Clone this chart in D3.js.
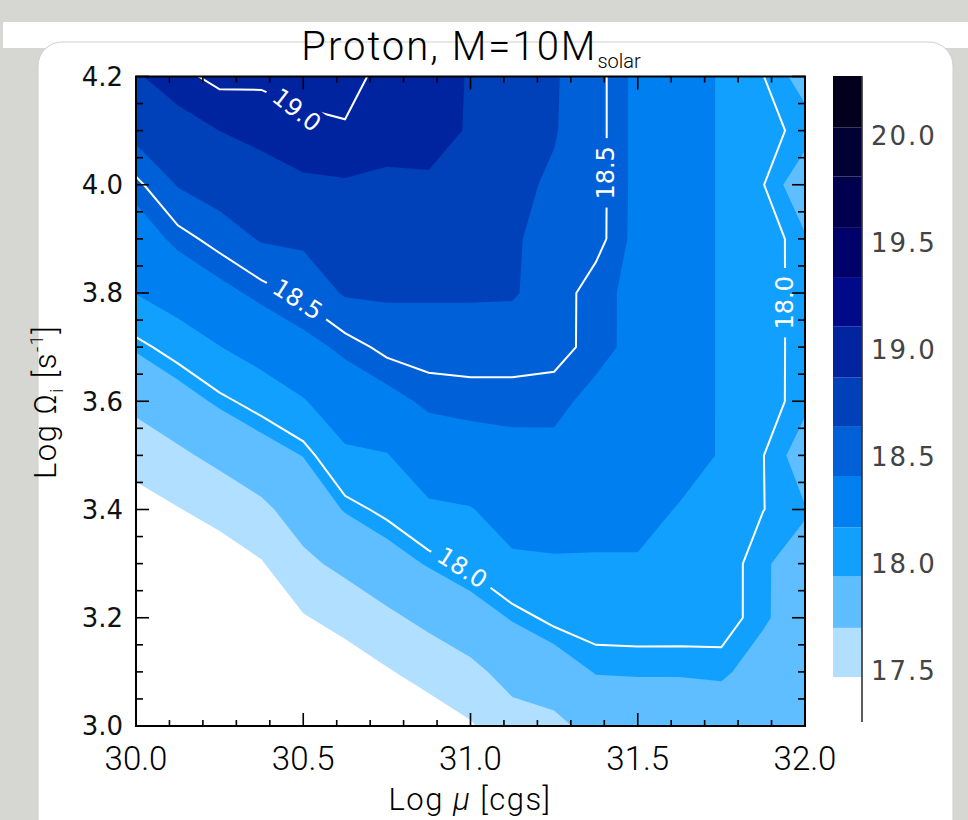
<!DOCTYPE html>
<html>
<head>
<meta charset="utf-8">
<style>
  body { margin: 0; background: #d6d6d2; }
  svg { display: block; }
</style>
</head>
<body>
<svg width="968" height="820"></svg>
<script src="https://cdn.jsdelivr.net/npm/d3@7"></script>
<script>
// grid of the map: log mu (columns) and log Omega_i (rows, bottom to top)
var logMu = [30.0, 30.125, 30.25, 30.375, 30.5, 30.625, 30.75, 30.875, 31.0,
             31.125, 31.25, 31.375, 31.5, 31.625, 31.75, 31.875, 32.0];
var logOmega = [3.0, 3.1, 3.2, 3.3, 3.4, 3.5, 3.6, 3.7, 3.8, 3.9, 4.0, 4.1, 4.2];

// contoured quantity, one row per logOmega value
var nLog = [
  [16.59, 16.68, 16.75, 16.85, 17.05, 17.15, 17.239, 17.342, 17.448, 17.61, 17.642, 17.78, 17.80, 17.80, 17.82, 17.76, 17.78],
  [16.78, 16.875, 16.95, 17.05, 17.253, 17.35, 17.45, 17.554, 17.644, 17.778, 17.845, 17.949, 17.955, 17.955, 17.965, 17.87, 17.82],
  [16.98, 17.07, 17.152, 17.254, 17.454, 17.547, 17.657, 17.756, 17.853, 17.953, 18.031, 18.051, 18.051, 18.05, 18.042, 17.96, 17.85],
  [17.175, 17.265, 17.352, 17.454, 17.65, 17.756, 17.861, 17.955, 18.03, 18.138, 18.151, 18.154, 18.154, 18.14, 18.058, 17.945, 17.919],
  [17.37, 17.46, 17.548, 17.652, 17.807, 17.953, 18.033, 18.138, 18.16, 18.255, 18.256, 18.23, 18.23, 18.159, 18.10, 18.002, 17.945],
  [17.565, 17.658, 17.759, 17.86, 17.945, 18.138, 18.161, 18.295, 18.326, 18.358, 18.359, 18.303, 18.30, 18.238, 18.158, 18.002, 17.89],
  [17.757, 17.861, 17.969, 18.053, 18.157, 18.29, 18.354, 18.441, 18.458, 18.458, 18.458, 18.355, 18.33, 18.25, 18.156, 18.043, 17.96],
  [17.96, 18.06, 18.165, 18.257, 18.351, 18.445, 18.535, 18.553, 18.553, 18.553, 18.535, 18.468, 18.351, 18.25, 18.156, 18.033, 17.97],
  [18.175, 18.266, 18.358, 18.452, 18.532, 18.657, 18.663, 18.659, 18.659, 18.655, 18.568, 18.44, 18.38, 18.25, 18.156, 18.033, 17.97],
  [18.31, 18.45, 18.55, 18.655, 18.67, 18.752, 18.757, 18.757, 18.722, 18.66, 18.58, 18.545, 18.365, 18.25, 18.156, 18.055, 17.949],
  [18.465, 18.65, 18.724, 18.79, 18.844, 18.855, 18.855, 18.855, 18.791, 18.673, 18.62, 18.545, 18.37, 18.25, 18.156, 18.003, 17.872],
  [18.70, 18.79, 18.871, 18.918, 18.958, 18.976, 18.90, 18.91, 18.86, 18.70, 18.65, 18.545, 18.37, 18.25, 18.156, 18.022, 17.98],
  [18.85, 18.96, 19.04, 19.027, 19.06, 19.09, 18.92, 18.93, 18.86, 18.72, 18.655, 18.545, 18.37, 18.25, 18.156, 18.002, 17.90]
];

// filled levels and their colours (as on the colour bar)
var levels = [17.47, 17.70, 17.94, 18.17, 18.41, 18.64, 18.87, 19.11, 19.34, 19.57, 19.81, 20.04, 20.28];
var levelColors = ["#b0dfff", "#5ebeff", "#12a0ff", "#0080f0", "#0060d8", "#0040b8",
                   "#0024a0", "#000a88", "#00006a", "#00004e", "#000034", "#00001c"];
var lineLevels = [18.0, 18.5, 19.0];

var xTicks = [30.0, 30.5, 31.0, 31.5, 32.0];
var yTicks = [3.0, 3.2, 3.4, 3.6, 3.8, 4.0, 4.2];
var barTicks = [17.5, 18.0, 18.5, 19.0, 19.5, 20.0];

// where the line labels sit (data units) and how they are turned
var lineLabels = [
  {v: 19.0, mu: 30.48, om: 4.138, angle: 38},
  {v: 18.5, mu: 30.483, om: 3.788, angle: 33},
  {v: 18.0, mu: 30.975, om: 3.292, angle: 33},
  {v: 18.5, mu: 31.404, om: 4.022, angle: -90},
  {v: 18.0, mu: 31.939, om: 3.782, angle: -90}
];

var svg = d3.select("svg");
var x = d3.scaleLinear().domain([30, 32]).range([136, 805]);
var y = d3.scaleLinear().domain([3.0, 4.2]).range([726, 76.5]);
var cb = d3.scaleLinear().domain([17.26, 20.28]).range([722, 76]);

var thin = "Roboto, 'Liberation Sans', Arial, sans-serif";
var gothic = "'DejaVu Sans', sans-serif";

// page / slide background
svg.append("rect").attr("width", 968).attr("height", 820).attr("fill", "#d6d6d2");
svg.append("rect").attr("x", 3).attr("y", 22).attr("width", 965).attr("height", 26).attr("fill", "#fff");
svg.append("rect").attr("x", 38).attr("y", 42).attr("width", 915).attr("height", 820)
  .attr("rx", 24).attr("fill", "#fff").attr("stroke", "#cfcfcf");

var defs = svg.append("defs");
defs.append("clipPath").attr("id", "plotClip").append("rect")
  .attr("x", x(30)).attr("y", y(4.2)).attr("width", x(32) - x(30)).attr("height", y(3.0) - y(4.2));

// contours
var nx = logMu.length, ny = logOmega.length;
var dMu = logMu[1] - logMu[0], dOm = logOmega[1] - logOmega[0];
var values = [].concat.apply([], nLog);
var proj = d3.geoTransform({
  point: function(gx, gy) {
    this.stream.point(x(logMu[0] + (gx - 0.5) * dMu), y(logOmega[0] + (gy - 0.5) * dOm));
  }
});
var path = d3.geoPath(proj);

svg.append("rect").attr("x", x(30)).attr("y", y(4.2))
  .attr("width", x(32) - x(30)).attr("height", y(3.0) - y(4.2)).attr("fill", "#fff");

var bands = d3.contours().size([nx, ny]).thresholds(levels.slice(0, -1))(values);
svg.append("g").attr("clip-path", "url(#plotClip)")
  .selectAll("path").data(bands).enter().append("path")
  .attr("d", path)
  .attr("fill", function(d, i) { return levelColors[i]; });

// labels of the lines, with a gap cut in the line under each one
var mask = defs.append("mask").attr("id", "labelGap").attr("maskUnits", "userSpaceOnUse")
  .attr("x", 0).attr("y", 0).attr("width", 968).attr("height", 820);
mask.append("rect").attr("width", 968).attr("height", 820).attr("fill", "#fff");

var labelG = svg.append("g");
lineLabels.forEach(function(d) {
  var g = labelG.append("g")
    .attr("transform", "translate(" + x(d.mu) + "," + y(d.om) + ") rotate(" + d.angle + ")");
  var t = g.append("text").attr("text-anchor", "middle").attr("dominant-baseline", "central")
    .attr("font-family", gothic).attr("font-size", 24).attr("fill", "#fff")
    .text(d3.format(".1f")(d.v));
  var w = t.node().getComputedTextLength() + 16;
  mask.append("rect").attr("x", -w / 2).attr("y", -14).attr("width", w).attr("height", 28)
    .attr("fill", "#000")
    .attr("transform", "translate(" + x(d.mu) + "," + y(d.om) + ") rotate(" + d.angle + ")");
});

var lines = d3.contours().size([nx, ny]).thresholds(lineLevels)(values);
svg.append("g").attr("clip-path", "url(#plotClip)")
  .append("g").attr("mask", "url(#labelGap)")
  .selectAll("path").data(lines).enter().append("path")
  .attr("d", path)
  .attr("fill", "none").attr("stroke", "#fff").attr("stroke-width", 2)
  .attr("stroke-linejoin", "miter");

labelG.raise();

// frame and inward ticks on all four sides
var ax = svg.append("g").attr("stroke", "#000").attr("stroke-width", 1.6);
var xMinor = d3.range(300, 321).map(function(k) { return k / 10; });
var yMinor = d3.range(60, 85).map(function(k) { return k / 20; });
xMinor.forEach(function(v) {
  var len = xTicks.indexOf(v) >= 0 ? 13 : 6;
  ax.append("line").attr("x1", x(v)).attr("x2", x(v)).attr("y1", y(3.0)).attr("y2", y(3.0) - len);
  ax.append("line").attr("x1", x(v)).attr("x2", x(v)).attr("y1", y(4.2)).attr("y2", y(4.2) + len);
});
yMinor.forEach(function(v) {
  var major = yTicks.some(function(t) { return Math.abs(t - v) < 1e-9; });
  var len = major ? 13 : 7;
  ax.append("line").attr("x1", x(30)).attr("x2", x(30) + len).attr("y1", y(v)).attr("y2", y(v));
  ax.append("line").attr("x1", x(32)).attr("x2", x(32) - len).attr("y1", y(v)).attr("y2", y(v));
});
svg.append("rect").attr("x", x(30)).attr("y", y(4.2))
  .attr("width", x(32) - x(30)).attr("height", y(3.0) - y(4.2))
  .attr("fill", "none").attr("stroke", "#000").attr("stroke-width", 2);

svg.append("g").selectAll("text").data(xTicks).enter().append("text")
  .attr("x", function(d) { return x(d); }).attr("y", 770)
  .attr("text-anchor", "middle").attr("font-family", thin).attr("font-weight", 300)
  .attr("font-size", 33)
  .text(d3.format(".1f"));

svg.append("g").selectAll("text").data(yTicks).enter().append("text")
  .attr("x", 123).attr("y", function(d) { return y(d); })
  .attr("dy", "0.36em")
  .attr("text-anchor", "end").attr("font-family", gothic)
  .attr("font-size", 26).attr("fill", "#111")
  .text(d3.format(".1f"));

// axis titles and plot title
var xt = svg.append("text").attr("x", 470).attr("y", 810).attr("text-anchor", "middle")
  .attr("font-family", thin).attr("font-weight", 300).attr("font-size", 31).attr("letter-spacing", 1.5);
xt.append("tspan").text("Log ");
xt.append("tspan").attr("font-style", "italic").text("\u03bc");
xt.append("tspan").text(" [cgs]");

var yt = svg.append("text").attr("transform", "translate(56,402) rotate(-90)")
  .attr("text-anchor", "middle").attr("font-family", thin).attr("font-weight", 300)
  .attr("font-size", 31).attr("letter-spacing", 1.5);
yt.append("tspan").text("Log \u03a9");
yt.append("tspan").attr("dy", 7).attr("font-size", 18).text("i");
yt.append("tspan").attr("dy", -7).text(" [s");
yt.append("tspan").attr("dy", -13).attr("font-size", 18).text("-1");
yt.append("tspan").attr("dy", 13).text("]");

var tt = svg.append("text").attr("x", 471).attr("y", 60).attr("text-anchor", "middle")
  .attr("font-family", thin).attr("font-weight", 300).attr("font-size", 40).attr("letter-spacing", 2);
tt.append("tspan").text("Proton, M=10M");
tt.append("tspan").attr("dy", 8).attr("font-size", 20).attr("letter-spacing", 0).text("solar");

// colour bar
var bar = svg.append("g");
bar.selectAll("rect").data(levelColors).enter().append("rect")
  .attr("x", 833).attr("width", 29)
  .attr("y", function(d, i) { return cb(levels[i + 1]); })
  .attr("height", function(d, i) { return cb(levels[i]) - cb(levels[i + 1]); })
  .attr("fill", function(d) { return d; });
bar.append("line").attr("x1", 862).attr("x2", 862).attr("y1", cb(20.28)).attr("y2", cb(17.26))
  .attr("stroke", "#333").attr("stroke-width", 1.6);
bar.selectAll("text").data(barTicks).enter().append("text")
  .attr("x", 871).attr("y", function(d) { return cb(d); }).attr("dy", "0.36em")
  .attr("font-family", gothic).attr("font-size", 26).attr("fill", "#444")
  .attr("letter-spacing", 2)
  .text(d3.format(".1f"));
</script>
</body>
</html>
